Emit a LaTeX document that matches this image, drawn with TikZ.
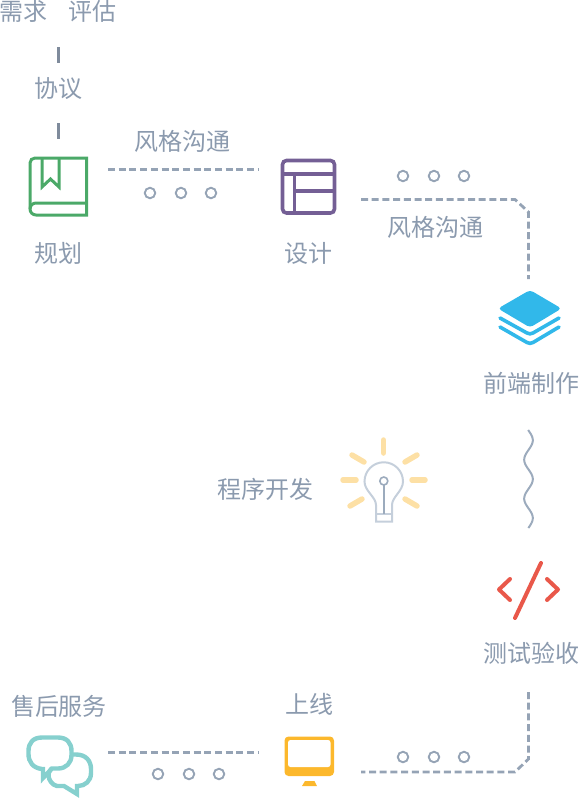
\documentclass[tikz,border=0pt]{standalone}
\usepackage{fontspec}
\newfontfamily\cjk{Noto Sans CJK SC}
\definecolor{txtc}{HTML}{8B9AAE}
\definecolor{dashc}{HTML}{95A3B5}
\definecolor{tickc}{HTML}{7F8B9C}
\definecolor{bookc}{HTML}{4BA968}
\definecolor{planc}{HTML}{745F95}
\definecolor{layerc}{HTML}{31B8EA}
\definecolor{bulbc}{HTML}{C5CFDB}
\definecolor{stemc}{HTML}{9CABBD}
\definecolor{rayc}{HTML}{FDE0A5}
\definecolor{codec}{HTML}{E9584A}
\definecolor{monc}{HTML}{FCB82C}
\definecolor{chatc}{HTML}{86D0CE}
\tikzset{
  lbl/.style={inner sep=0pt,text=txtc,font=\cjk\fontsize{24}{24}\selectfont},
  dashline/.style={draw=dashc,line width=2.8pt,dash pattern=on 7pt off 3.7pt},
  tick/.style={draw=tickc,line width=3pt},
  dot/.style={circle,draw=dashc,line width=1.9pt,minimum size=10.5pt,inner sep=0pt},
  ray/.style={draw=rayc,line width=5.5pt,line cap=round},
}
\begin{document}
\begin{tikzpicture}[x=1pt,y=-1pt]
\useasboundingbox (0,0) rectangle (579,798);
% labels
\node[lbl] (need) at (58,11) {需求\hspace{22pt}评估};
\node[lbl] (agree) at (58.5,88) {协议};
\node[lbl] (plan) at (58.5,253) {规划};
\node[lbl] (style1) at (182,141) {风格沟通};
\node[lbl] (design) at (308,253) {设计};
\node[lbl] (style2) at (435,227) {风格沟通};
\node[lbl] (front) at (531,383) {前端制作};
\node[lbl] (dev) at (265,489) {程序开发};
\node[lbl] (test) at (531,653) {测试验收};
\node[lbl] (live) at (309,704) {上线};
\node[lbl] (serv) at (59,706) {售后服务};
% ticks
\coordinate (t1a) at (58,47); \coordinate (t1b) at (58,63);
\coordinate (t2a) at (58,123); \coordinate (t2b) at (58,139);
\draw[tick] (t1a) -- (t1b);
\draw[tick] (t2a) -- (t2b);
% dashed connectors
\coordinate (d1a) at (108,169.5); \coordinate (d1b) at (258,169.5);
\draw[dashline] (d1a) -- (d1b);
\coordinate (d2a) at (361,199.5); \coordinate (d2b) at (515,199.5);
\coordinate (d2c) at (528.5,212); \coordinate (d2d) at (528.5,279);
\draw[dashline] (d2a) -- (d2b) -- (d2c) -- (d2d);
\coordinate (d3a) at (528.5,692); \coordinate (d3b) at (528.5,759);
\coordinate (d3c) at (515,772); \coordinate (d3d) at (361,772);
\draw[dashline] (d3a) -- (d3b) -- (d3c) -- (d3d);
\coordinate (d4a) at (108,752.5); \coordinate (d4b) at (258,752.5);
\draw[dashline] (d4a) -- (d4b);
% dots
\foreach \n/\x/\y in {a1/150/193,a2/181/193,a3/211/193,b1/403/176,b2/434/176,b3/464/176,c1/403/757,c2/434/757,c3/464/757,e1/158/774,e2/189/774,e3/219/774}
  \node[dot] (dot\n) at (\x,\y) {};
% book
\begin{scope}[draw=bookc,line width=3pt]
\draw (87,203) -- (36,203) to[out=180,in=90] (30,209);
\draw (86.5,158) -- (35,158) to[out=180,in=90] (30,163) -- (30,209) to[out=-90,in=180] (36,215) -- (86.5,215) -- cycle;
\draw (42,158) -- (42,187) -- (50.5,179) -- (59,187) -- (59,158);
\end{scope}
% design
\begin{scope}[draw=planc,line width=3.6pt]
\draw[rounded corners=4pt] (282.5,160.5) rectangle (334.5,213);
\draw (282.5,174) -- (334.5,174);
\draw (294.5,174) -- (294.5,213);
\draw (294.5,191) -- (334.5,191);
\end{scope}
% layers
\fill[layerc,rounded corners=3.5pt] (530,290) -- (561.5,308.5) -- (530,327.5) -- (498,308.5) -- cycle;
\draw[layerc,line width=3.6pt,line cap=round,line join=round] (500,318) -- (527,333) to[out=-30,in=-150] (533,333) -- (559,318);
\draw[layerc,line width=3.6pt,line cap=round,line join=round] (500,327) -- (527,342.5) to[out=-30,in=-150] (533,342.5) -- (559,327);
% wave
\draw[draw=stemc,line width=2pt] plot[domain=430:528,samples=80,smooth] ({528.5+4.3*sin((\x-430.5)*9.25)},\x);
% bulb
\draw[ray] (383.5,440) -- (383.5,453);
\draw[ray] (412,480) -- (425,480);
\draw[ray] (343,480) -- (356,480);
\draw[ray] (405,462) -- (417,455);
\draw[ray] (352,455) -- (364,462);
\draw[ray] (350,506) -- (362,499);
\draw[ray] (405,499) -- (417,506);
\draw[draw=bulbc,line width=2pt] (376,505) -- (376,521.5) -- (392,521.5) -- (392,505)
  .. controls (392,497) and (403,491) .. (403,481.5)
  arc[start angle=0,end angle=-180,radius=19.25]
  .. controls (364.5,491) and (376,497) .. (376,505) -- cycle;
\draw[draw=bulbc,line width=2pt] (376,514) -- (392,514);
\draw[draw=stemc,line width=1.6pt] (383.8,485) -- (383.8,514);
\draw[draw=stemc,line width=1.6pt] (383.8,481) circle[radius=4];
% code
\begin{scope}[draw=codec,line width=4pt,line cap=round,line join=round]
\draw (510,579) -- (499,589.5) -- (510,600);
\draw (547,579) -- (558,589.5) -- (547,600);
\draw (541,563) -- (515,618);
\end{scope}
% monitor
\fill[monc,rounded corners=4pt] (284.5,736.5) rectangle (334,776);
\fill[white,rounded corners=2.5pt] (288,740) rectangle (330.5,767);
\fill[monc] (302,786) -- (305,781) -- (314.5,781) -- (317,786) -- cycle;
% chat
\begin{scope}[draw=chatc,line width=4.4pt,line join=miter]
\draw (42,769) .. controls (33,768) and (28.5,762) .. (28.5,754)
  -- (28.5,751) .. controls (28.5,743) and (33,737.5) .. (42,737.5)
  -- (58,737.5) .. controls (67,737.5) and (71.5,743) .. (71.5,751)
  -- (71.5,755) .. controls (71.5,763) and (66,768.5) .. (58,768.5)
  -- (52,768.5) -- (43,778) -- (43,769) -- cycle;
\draw (72,754.5) -- (76,754.5) .. controls (86,754.5) and (91,761) .. (91,769)
  -- (91,773) .. controls (91,781) and (85,786) .. (78,786) -- (77,786) -- (77,794) -- (64,786)
  -- (57,786) .. controls (52,785) and (49,780) .. (48.5,776) .. controls (48.5,772) and (50,770) .. (52,768);
\end{scope}
\end{tikzpicture}
\end{document}
